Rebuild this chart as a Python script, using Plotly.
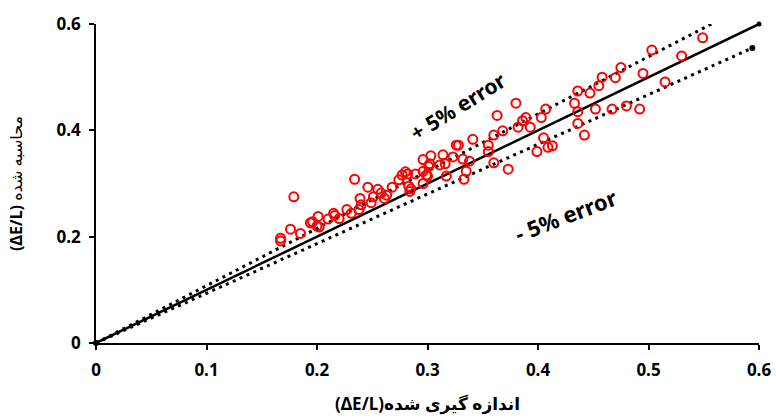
import plotly.graph_objects as go

# measured vs computed (ΔE/L)
measured = [0.167, 0.167, 0.179, 0.176, 0.185, 0.194, 0.196, 0.201, 0.200, 0.202,
            0.210, 0.215, 0.216, 0.220, 0.227, 0.231, 0.234, 0.238, 0.240, 0.239,
            0.246, 0.251, 0.249, 0.255, 0.258, 0.261, 0.263, 0.268, 0.274, 0.277,
            0.280, 0.282, 0.283, 0.284, 0.285, 0.289, 0.296, 0.296, 0.299, 0.301,
            0.303, 0.302, 0.296, 0.300, 0.311, 0.316, 0.314, 0.317, 0.323, 0.326,
            0.328, 0.332, 0.338, 0.335, 0.333, 0.341, 0.355, 0.355, 0.360, 0.360,
            0.363, 0.368, 0.373, 0.380, 0.382, 0.389, 0.386, 0.393, 0.399, 0.403,
            0.405, 0.407, 0.409, 0.413, 0.433, 0.436, 0.436, 0.436, 0.442, 0.447,
            0.452, 0.455, 0.458, 0.467, 0.470, 0.475, 0.480, 0.492, 0.495, 0.503,
            0.515, 0.530, 0.549, 0.593]
computed = [0.197, 0.192, 0.275, 0.214, 0.206, 0.226, 0.228, 0.238, 0.220, 0.218,
            0.233, 0.244, 0.240, 0.234, 0.251, 0.244, 0.308, 0.251, 0.260, 0.272,
            0.293, 0.275, 0.264, 0.289, 0.282, 0.272, 0.278, 0.293, 0.307, 0.316,
            0.322, 0.318, 0.295, 0.285, 0.290, 0.318, 0.300, 0.345, 0.316, 0.332,
            0.352, 0.337, 0.323, 0.314, 0.335, 0.337, 0.354, 0.314, 0.350, 0.372,
            0.372, 0.346, 0.342, 0.323, 0.308, 0.383, 0.372, 0.360, 0.391, 0.339,
            0.428, 0.399, 0.327, 0.451, 0.406, 0.424, 0.418, 0.406, 0.360, 0.424,
            0.386, 0.440, 0.368, 0.371, 0.451, 0.474, 0.435, 0.413, 0.391, 0.470,
            0.440, 0.484, 0.500, 0.440, 0.499, 0.518, 0.446, 0.440, 0.507, 0.551,
            0.491, 0.540, 0.574, 0.601]

line_x = [0, 0.6]
line_y = [0, 0.6]
upper_x = [0, 0.557]
upper_y = [0, 0.6]
lower_x = [0, 0.594]
lower_y = [0, 0.555]

x_ticks = [0, 0.1, 0.2, 0.3, 0.4, 0.5, 0.6]
x_ticktext = ["0", "0.1", "0.2", "0.3", "0.4", "0.5", "0.6"]
y_ticks = [0, 0.2, 0.4, 0.6]
y_ticktext = ["0", "0.2", "0.4", "0.6"]

x_title = "(ΔE/L)اندازه گیری شده"
y_title = "<b>(ΔE/L)</b> محاسبه شده"
upper_label = "+ 5% error"
lower_label = "- 5% error"

FONT = "'Noto Sans', 'DejaVu Sans', sans-serif"

fig = go.Figure()
fig.add_trace(go.Scatter(x=upper_x, y=upper_y, mode="lines",
                         line=dict(color="black", width=3, dash="3px,4.5px"),
                         hoverinfo="skip", cliponaxis=False))
fig.add_trace(go.Scatter(x=lower_x, y=lower_y, mode="lines+markers",
                         line=dict(color="black", width=3, dash="3px,4.5px"),
                         marker=dict(color="black", size=6),
                         hoverinfo="skip", cliponaxis=False))
fig.add_trace(go.Scatter(x=line_x, y=line_y, mode="lines+markers",
                         line=dict(color="black", width=2.5),
                         marker=dict(color="black", size=5),
                         hoverinfo="skip", cliponaxis=False))
fig.add_trace(go.Scatter(x=measured, y=computed, mode="markers",
                         marker=dict(symbol="circle-open", color="red", size=9,
                                     line=dict(color="red", width=2)),
                         cliponaxis=False))

fig.add_annotation(x=0.328, y=0.446, xref="x", yref="y", text=upper_label,
                   showarrow=False, textangle=-32,
                   font=dict(family=FONT, size=21, color="black", weight="bold"))
fig.add_annotation(x=0.425, y=0.241, xref="x", yref="y", text=lower_label,
                   showarrow=False, textangle=-21,
                   font=dict(family=FONT, size=22, color="black", weight="bold"))

axis_common = dict(showgrid=False, zeroline=False, showline=True, linecolor="black",
                   linewidth=1.5, ticks="outside", ticklen=5, tickcolor="black",
                   tickwidth=1.5, automargin=False,
                   tickfont=dict(family=FONT, size=17, color="black", weight="bold"))

fig.update_layout(
    width=776, height=418,
    margin=dict(l=96, r=17, t=24, b=75),
    paper_bgcolor="white", plot_bgcolor="white",
    showlegend=False,
    xaxis=dict(range=[0, 0.6], tickvals=x_ticks, ticktext=x_ticktext,
               ticklabelstandoff=6,
               title=dict(text=x_title, standoff=18,
                          font=dict(family=FONT, size=17, color="black", weight="bold")),
               **axis_common),
    yaxis=dict(range=[0, 0.6], tickvals=y_ticks, ticktext=y_ticktext,
               ticklabelstandoff=5,
               title=dict(text=y_title, standoff=30,
                          font=dict(family=FONT, size=16, color="black")),
               **axis_common),
)

# remove the browser's default 8px body margin so the figure fills the window
fig.write_html("out.html", config={"displayModeBar": False},
               post_script="document.body.style.margin='0';")
